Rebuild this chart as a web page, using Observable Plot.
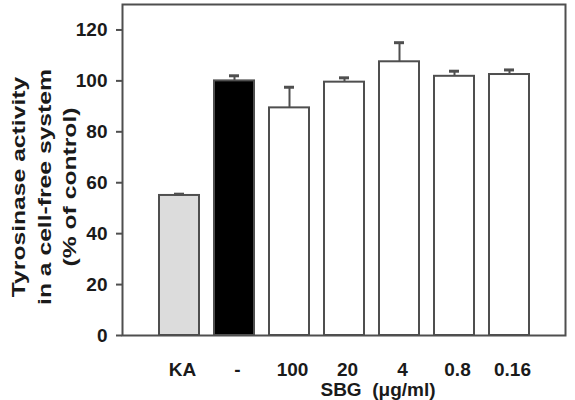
<!DOCTYPE html>
<html>
<head>
<meta charset="utf-8">
<script src="https://cdn.jsdelivr.net/npm/d3@7"></script>
<script src="https://cdn.jsdelivr.net/npm/@observablehq/plot@0.6"></script>
<style>
  html, body { margin: 0; padding: 0; background: #fff; }
  #chart svg { display: block; }
</style>
</head>
<body>
<div id="chart"></div>
<script>
// Tyrosinase activity in a cell-free system (% of control), mean + error
const doses = ["KA", "-", "100", "20", "4", "0.8", "0.16"];
const treatment = ["KA", "control", "SBG", "SBG", "SBG", "SBG", "SBG"];
const activity = [55.0, 100.0, 89.4, 99.5, 107.5, 101.8, 102.5];
const errors = [0.5, 2.0, 8.1, 1.7, 7.5, 2.0, 1.8];
const yTicks = [0, 20, 40, 60, 80, 100, 120];
const yTitle = ["Tyrosinase activity", "in a cell-free system", "(% of control)"];
const xTitle = "SBG\u00a0 (\u03bcg/ml)";

const rows = doses.map((dose, i) => ({
  dose,
  group: treatment[i],
  value: activity[i],
  top: activity[i] + errors[i]
}));

const edge = "#4f4f4f";
const ink = "#1a1a1a";

const chart = Plot.plot({
  width: 575,
  height: 400,
  marginLeft: 122,
  marginRight: 10,
  marginTop: 4,
  marginBottom: 65,
  style: {
    fontFamily: "'Liberation Sans', Arial, sans-serif",
    fontSize: "19px",
    fontWeight: "bold",
    color: ink,
    background: "#fff"
  },
  x: { type: "band", domain: doses, paddingInner: 0.276, paddingOuter: 0.648 },
  y: { domain: [0, 130] },
  color: { domain: ["KA", "control", "SBG"], range: ["#dcdcdc", "#000000", "#ffffff"] },
  marks: [
    Plot.barY(rows, { x: "dose", y: "value", fill: "group", stroke: edge, strokeWidth: 2 }),
    Plot.ruleX(rows, { x: "dose", y1: "value", y2: "top", stroke: edge, strokeWidth: 2 }),
    Plot.tickY(rows, { x: "dose", y: "top", stroke: edge, strokeWidth: 3, insetLeft: 15, insetRight: 15 }),
    Plot.frame({ stroke: edge, strokeWidth: 2 }),
    Plot.axisY({ ticks: yTicks, tickSize: 6, tickPadding: 9, stroke: edge, strokeWidth: 2, fill: ink, fontSize: 19, fontWeight: "bold", label: null }),
    Plot.axisX({ tickSize: 0, tickPadding: 27, dx: 3, fill: ink, fontSize: 19, fontWeight: "bold", label: null }),
    Plot.text([xTitle], { text: d => d, frameAnchor: "bottom", lineAnchor: "middle", dx: 34, dy: 54, fill: ink, fontSize: 19, fontWeight: "bold" }),
    Plot.text([yTitle.join("\n")], { text: d => d, frameAnchor: "left", textAnchor: "middle", lineAnchor: "middle", rotate: -90, dx: -80, dy: 17, lineHeight: 1.32, fill: ink, fontSize: 19, fontWeight: "bold" })
  ]
});

// Stretch the rotated y title along its reading direction
chart.querySelectorAll("text").forEach(t => {
  if (t.textContent.startsWith("Tyrosinase")) {
    const tr = t.getAttribute("transform") || "";
    t.setAttribute("transform", tr + " scale(1.3,1)");
  }
});

document.getElementById("chart").appendChild(chart);
</script>
</body>
</html>
